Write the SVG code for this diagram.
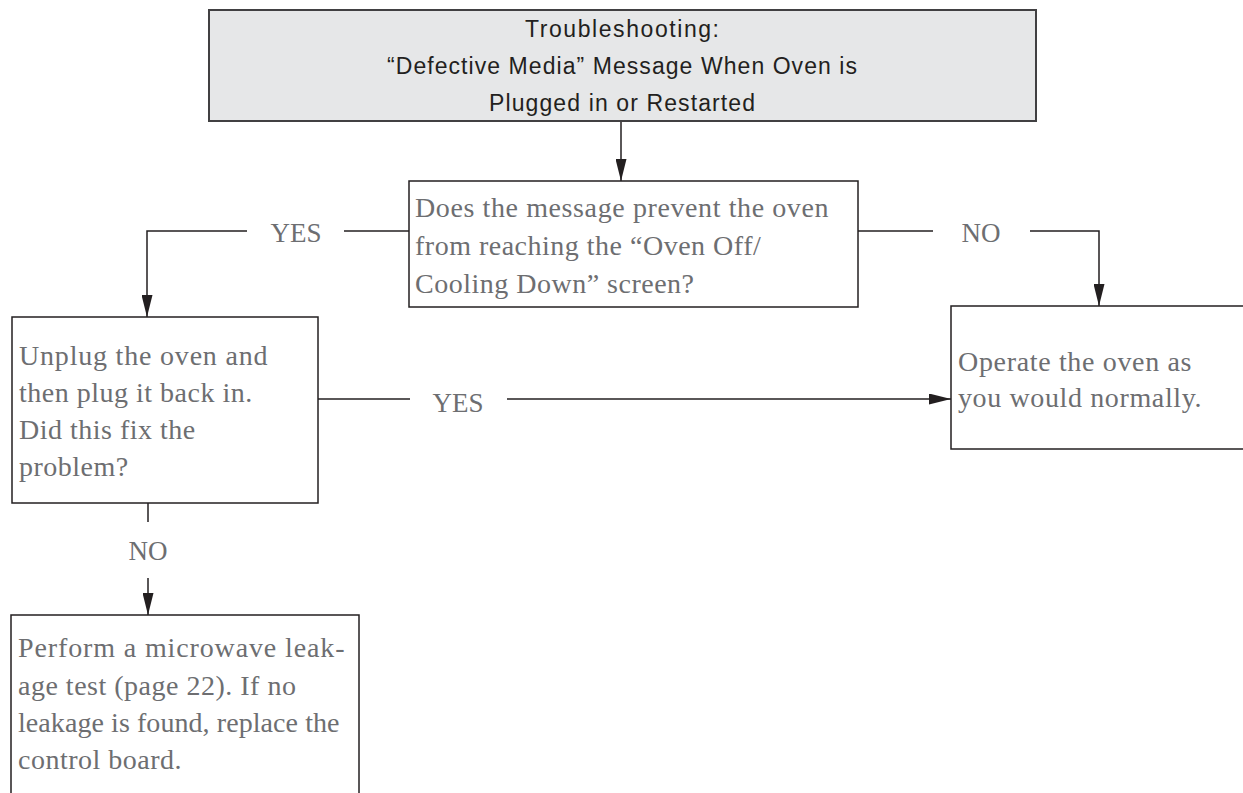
<svg xmlns="http://www.w3.org/2000/svg" width="1243" height="793" viewBox="0 0 1243 793">
<style>
.box{fill:#ffffff;stroke:#231f20;stroke-width:1.5}
.title{fill:#e6e7e8;stroke:#414042;stroke-width:2}
.tt{font-family:"Liberation Sans",Arial,sans-serif;font-size:23px;fill:#231f20;text-anchor:middle}
.body{font-family:"Liberation Serif","Times New Roman",serif;font-size:28px;fill:#6d6e71;letter-spacing:0.5px}
.lbl{font-family:"Liberation Serif","Times New Roman",serif;font-size:27px;fill:#6d6e71;text-anchor:middle}
.cn{fill:none;stroke:#231f20;stroke-width:1.5}
</style>
<defs>
<marker id="ah" viewBox="0 0 22 11" refX="22" refY="5.5" markerWidth="22" markerHeight="11" markerUnits="userSpaceOnUse" orient="auto">
<path d="M0,0 L22,5.5 L0,11 Z" fill="#231f20"/>
</marker>
</defs>
<rect width="1243" height="793" fill="#ffffff"/>
<g id="connectors">
<line class="cn" x1="621" y1="121" x2="621" y2="181" marker-end="url(#ah)"/>
<polyline class="cn" points="409,231 344,231"/>
<polyline class="cn" points="247,231 147,231 147,317" marker-end="url(#ah)"/>
<text class="lbl" x="296" y="242">YES</text>
<polyline class="cn" points="858,231 933,231"/>
<polyline class="cn" points="1030,231 1099,231 1099,306" marker-end="url(#ah)"/>
<text class="lbl" x="981" y="242">NO</text>
<line class="cn" x1="318" y1="399" x2="410" y2="399"/>
<line class="cn" x1="507" y1="399" x2="951" y2="399" marker-end="url(#ah)"/>
<text class="lbl" x="458" y="412">YES</text>
<line class="cn" x1="148" y1="503" x2="148" y2="522"/>
<line class="cn" x1="148" y1="578" x2="148" y2="615" marker-end="url(#ah)"/>
<text class="lbl" x="148" y="560">NO</text>
</g>
<g id="n-title">
<rect class="title" x="209" y="10" width="827" height="111"/>
<text class="tt" x="622" y="37" textLength="194">Troubleshooting:</text>
<text class="tt" x="622" y="74" textLength="470">“Defective Media” Message When Oven is</text>
<text class="tt" x="622" y="111" textLength="266">Plugged in or Restarted</text>
</g>
<g id="n-question">
<rect class="box" x="409" y="181" width="449" height="126"/>
<text class="body" x="415" y="217" textLength="414">Does the message prevent the oven</text>
<text class="body" x="415" y="255">from reaching the “Oven Off/</text>
<text class="body" x="415" y="293">Cooling Down” screen?</text>
</g>
<g id="n-unplug">
<rect class="box" x="12" y="317" width="306" height="186"/>
<text class="body" x="19" y="365" textLength="249">Unplug the oven and</text>
<text class="body" x="19" y="402">then plug it back in.</text>
<text class="body" x="19" y="439">Did this fix the</text>
<text class="body" x="19" y="476">problem?</text>
</g>
<g id="n-operate">
<rect class="box" x="951" y="306" width="310" height="143"/>
<text class="body" x="958" y="371" textLength="234">Operate the oven as</text>
<text class="body" x="958" y="407" textLength="244">you would normally.</text>
</g>
<g id="n-leakage">
<rect class="box" x="11" y="615" width="348" height="200"/>
<text class="body" x="18" y="657" textLength="327">Perform a microwave leak-</text>
<text class="body" x="18" y="695">age test (page 22). If no</text>
<text class="body" x="18" y="732" textLength="322">leakage is found, replace the</text>
<text class="body" x="18" y="769">control board.</text>
</g>
</svg>
